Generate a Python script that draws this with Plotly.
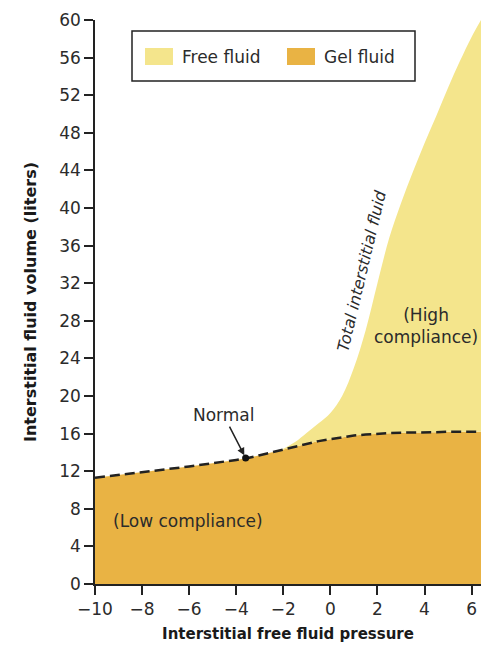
import plotly.graph_objects as go

# Interstitial free fluid pressure (mmHg)
pressure = [-10, -8, -6, -4, -3.5, -3, -2.5, -2, -1.5, -1, -0.5, 0, 0.5, 1, 1.5, 2, 2.5, 3, 3.5, 4, 4.5, 5, 5.5, 6, 6.4]
# Gel fluid volume (liters) - lower boundary (dashed)
gel_volume = [11.3, 11.9, 12.5, 13.2, 13.4, 13.7, 14.0, 14.3, 14.6, 14.9, 15.2, 15.4, 15.6, 15.8, 15.9, 16.0, 16.05, 16.1, 16.1, 16.1, 16.15, 16.2, 16.2, 16.2, 16.2]
# Total interstitial fluid volume (liters)
total_volume = [11.3, 11.9, 12.5, 13.2, 13.4, 13.7, 14.0, 14.4, 15.1, 16.1, 17.1, 18.2, 20.0, 23.0, 27.0, 32.0, 36.8, 40.5, 43.8, 46.9, 49.8, 52.8, 55.6, 58.2, 60.0]
# Normal point
normal_x = [-3.6]
normal_y = [13.4]

x_ticks = [-10, -8, -6, -4, -2, 0, 2, 4, 6]
y_ticks = list(range(0, 61, 4))

legend_names = ["Free fluid", "Gel fluid"]

FONT = "DejaVu Sans"
TXT = "#2b2b2b"
YELLOW = "#F4E58C"
ORANGE = "#E9B344"

# plot area in window pixels (page body has an 8px margin)
PX0, PX1, PY0, PY1 = 95, 481, 20, 584


def px(x):
    return (x - PX0) / (PX1 - PX0)


def py(y):
    return (PY1 - y) / (PY1 - PY0)


fig = go.Figure()

fig.add_trace(go.Scatter(
    x=pressure, y=gel_volume, mode="lines", line=dict(width=0, color=ORANGE),
    fill="tozeroy", fillcolor=ORANGE, name=legend_names[1], showlegend=False,
    hoverinfo="skip"))
fig.add_trace(go.Scatter(
    x=pressure, y=total_volume, mode="lines", line=dict(width=0, color=YELLOW, shape="spline"),
    fill="tonexty", fillcolor=YELLOW, name=legend_names[0], showlegend=False,
    hoverinfo="skip"))
fig.add_trace(go.Scatter(
    x=pressure, y=gel_volume, mode="lines",
    line=dict(color="#222222", width=2.5, dash="10px,5px"),
    showlegend=False, hoverinfo="skip"))
fig.add_trace(go.Scatter(
    x=normal_x, y=normal_y, mode="markers",
    marker=dict(color="#111111", size=7), showlegend=False, hoverinfo="skip"))

# legend frame, swatches and labels
fig.add_shape(type="rect", xref="paper", yref="paper",
              x0=px(132), x1=px(415), y0=py(81), y1=py(31),
              line=dict(color="#222222", width=1.5), fillcolor="white", layer="above")
for sx, col, tx, name in [(145, YELLOW, 180, legend_names[0]), (287, ORANGE, 322, legend_names[1])]:
    fig.add_shape(type="rect", xref="paper", yref="paper",
                  x0=px(sx), x1=px(sx + 28), y0=py(65), y1=py(48),
                  line=dict(width=0), fillcolor=col, layer="above")
    fig.add_annotation(xref="paper", yref="paper", x=px(tx), y=py(57), text=name,
                       showarrow=False, xanchor="left", yanchor="middle",
                       font=dict(family=FONT, size=17, color=TXT))

fig.add_annotation(x=normal_x[0], y=normal_y[0], text="Normal", showarrow=True,
                   ax=-22, ay=-43, arrowhead=2, arrowsize=1, arrowwidth=1.5,
                   arrowcolor="#222222", standoff=3,
                   font=dict(family=FONT, size=17, color=TXT))
fig.add_annotation(x=-6.05, y=6.7, text="(Low compliance)", showarrow=False,
                   font=dict(family=FONT, size=17, color=TXT))
fig.add_annotation(x=4.05, y=27.4, text="(High<br>compliance)", showarrow=False,
                   font=dict(family=FONT, size=17, color=TXT))
fig.add_annotation(x=1.32, y=33.4, text="<i>Total interstitial fluid</i>", showarrow=False,
                   textangle=-76.6, font=dict(family=FONT, size=16, color=TXT))

W, H = 481, 638
fig.update_layout(
    width=W, height=H,
    margin=dict(l=PX0 - 8, r=W - (PX1 - 8), t=PY0 - 8, b=H - (PY1 - 8), autoexpand=False),
    paper_bgcolor="white", plot_bgcolor="white",
    font=dict(family=FONT, size=16, color=TXT),
    showlegend=False,
    xaxis=dict(range=[-10, 6.4], tickmode="array", tickvals=x_ticks,
               showline=True, linecolor="#222222", linewidth=1.5,
               ticks="outside", ticklen=9, tickwidth=1.5, tickcolor="#222222",
               showgrid=False, zeroline=False, automargin=False,
               tickfont=dict(family=FONT, size=17, color=TXT),
               title=dict(text="Interstitial free fluid pressure", standoff=10,
                          font=dict(family=FONT, size=15, color="#1a1a1a", weight="bold"))),
    yaxis=dict(range=[0, 60], tickmode="array", tickvals=y_ticks,
               showline=True, linecolor="#222222", linewidth=1.5,
               ticks="outside", ticklen=9, tickwidth=1.5, tickcolor="#222222",
               showgrid=False, zeroline=False, automargin=False,
               tickfont=dict(family=FONT, size=17, color=TXT),
               title=dict(text="Interstitial fluid volume (liters)", standoff=19,
                          font=dict(family=FONT, size=16, color="#1a1a1a", weight="bold"))),
)

fig.write_html("out.html")
